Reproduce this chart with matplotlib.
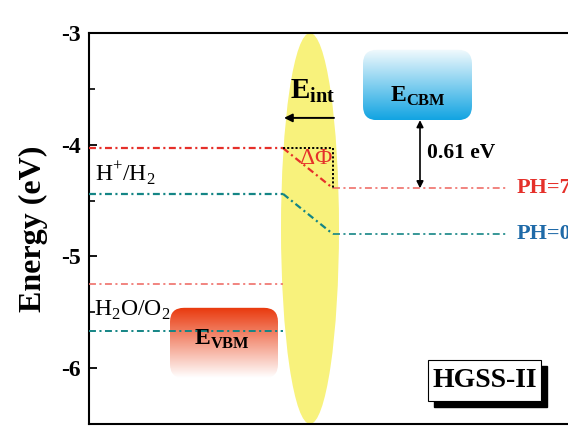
import numpy as np
import matplotlib
matplotlib.use('Agg')
import matplotlib.pyplot as plt
from matplotlib.patches import Ellipse, FancyBboxPatch, Rectangle
from matplotlib.colors import to_rgba

plt.rcParams['font.family'] = 'Liberation Serif'
plt.rcParams['mathtext.fontset'] = 'custom'
plt.rcParams['mathtext.rm'] = 'Liberation Serif'
plt.rcParams['mathtext.bf'] = 'Liberation Serif:bold'
plt.rcParams['axes.unicode_minus'] = False
plt.rcParams['lines.scale_dashes'] = False

# energy levels (eV)
e_h2_ph7, e_o2_ph7 = -4.03, -5.25      # red reference lines
e_h2_ph0, e_o2_ph0 = -4.44, -5.67      # teal reference lines
e_band_ph7, e_band_ph0 = -4.39, -4.80  # levels after bending
e_cbm_top, e_cbm = -3.15, -3.78
e_vbm_top, e_vbm_bot = -5.46, -6.09
gap_label = '0.61 eV'
yticks = [-6, -5, -4, -3]

red = '#e5302a'
red_lt = '#ef6f6a'
teal = '#148585'
blue = '#1f6aa8'
dashdot = (0, (5, 2.5, 1.5, 2.5))

fig = plt.figure(figsize=(5.68, 4.34), dpi=100)
# x in pixel-like units, axes runs past the right edge of the figure
ax = fig.add_axes([89/568, 10/434, (585-89)/568, 391/434])
ax.set_xlim(89, 585)
ax.set_ylim(-6.5, -3)

# yellow interface ellipse
ax.add_patch(Ellipse((310, -4.75), 58, 3.5, color='#f8f27c', lw=0, zorder=1))

def gradient_box(x0, x1, y0, y1, c_top, c_bot):
    n = 100
    ct, cb = np.array(to_rgba(c_top)), np.array(to_rgba(c_bot))
    t = np.linspace(0, 1, n)[:, None]
    grad = (cb * (1 - t) + ct * t)[:, None, :]
    box = FancyBboxPatch((x0, y0), x1 - x0, y1 - y0,
                         boxstyle='round,pad=0,rounding_size=14',
                         mutation_aspect=1/111.7, fc='none', ec='none')
    ax.add_patch(box)
    im = ax.imshow(grad, extent=[x0, x1, y0, y1], origin='lower',
                   aspect='auto', zorder=2)
    im.set_clip_path(box)

gradient_box(363, 472, e_cbm, e_cbm_top, '#f2fafd', '#12a4e2')
gradient_box(170, 278, e_vbm_bot, e_vbm_top, '#e9380c', '#ffffff')

# reference / band lines
ax.plot([89, 283], [e_h2_ph7] * 2, color=red, lw=1.6, ls=dashdot, zorder=3)
ax.plot([283, 333], [e_h2_ph7, e_band_ph7], color=red, lw=1.6, ls=dashdot, zorder=3)
ax.plot([333, 508], [e_band_ph7] * 2, color=red_lt, lw=1.2, ls=dashdot, zorder=3)
ax.plot([89, 283], [e_o2_ph7] * 2, color=red_lt, lw=1.2, ls=dashdot, zorder=3)

ax.plot([89, 283], [e_h2_ph0] * 2, color=teal, lw=1.6, ls=dashdot, zorder=3)
ax.plot([283, 333], [e_h2_ph0, e_band_ph0], color=teal, lw=1.6, ls=dashdot, zorder=3)
ax.plot([333, 508], [e_band_ph0] * 2, color=teal, lw=1.2, ls=dashdot, zorder=3)
ax.plot([89, 283], [e_o2_ph0] * 2, color=teal, lw=1.4, ls=dashdot, zorder=3)

# band bending box
ax.plot([283, 333, 333], [e_h2_ph7, e_h2_ph7, e_band_ph7], color='black',
        lw=1.4, ls=(0, (1.5, 1.5)), zorder=3)
ax.text(316, -4.12, r'$\Delta\Phi$', color=red, fontsize=17, ha='center', va='center', zorder=4)

# built-in field arrow
ax.annotate('', xy=(284, -3.76), xytext=(334, -3.76),
            arrowprops=dict(arrowstyle='-|>', color='black', lw=1.4,
                            mutation_scale=12, shrinkA=0, shrinkB=0), zorder=4)
ax.text(313, -3.52, r'$\mathbf{E}_{\mathbf{int}}$', fontsize=21, ha='center', va='center', zorder=4)

# CBM gap arrow
ax.annotate('', xy=(420, e_cbm), xytext=(420, e_band_ph7),
            arrowprops=dict(arrowstyle='<|-|>', color='black', lw=1.2,
                            mutation_scale=10, shrinkA=0, shrinkB=0), zorder=4)
ax.text(427, -4.07, gap_label, fontsize=15.5, fontweight='bold', ha='left', va='center', zorder=4)

ax.text(418, -3.57, r'$\mathbf{E}_{\mathbf{CBM}}$', fontsize=17, ha='center', va='center', zorder=4)
ax.text(222, -5.74, r'$\mathbf{E}_{\mathbf{VBM}}$', fontsize=17, ha='center', va='center', zorder=4)

ax.text(95, -4.25, r'H$^{+}$/H$_2$', fontsize=17, ha='left', va='center', zorder=4)
ax.text(94, -5.48, r'H$_2$O/O$_2$', fontsize=17, ha='left', va='center', zorder=4)
ax.text(517, e_band_ph7, 'PH=7', color=red, fontsize=16, fontweight='bold', ha='left', va='center', zorder=4)
ax.text(517, e_band_ph0, 'PH=0', color=blue, fontsize=16, fontweight='bold', ha='left', va='center', zorder=4)

# sample label with shadow
dy = 1 / 111.7
ax.add_patch(Rectangle((434, -6.29 - 6 * dy), 113, 0.36, fc='black', ec='black', zorder=5))
ax.add_patch(Rectangle((428, -6.29), 113, 0.36, fc='white', ec='black', lw=0.8, zorder=6))
ax.text(485, -6.11, 'HGSS-II', fontsize=20, fontweight='bold', ha='center', va='center', zorder=7)

ax.set_xlim(89, 585)
ax.set_ylim(-6.5, -3)
ax.set_xticks([])
ax.set_yticks(yticks)
ax.set_yticks(np.arange(-6.5, -3, 0.5), minor=True)
ax.tick_params(axis='y', which='major', direction='in', length=6, width=1.3, labelsize=17, pad=6)
ax.tick_params(axis='y', which='minor', direction='in', length=4, width=1.2)
for lab in ax.get_yticklabels():
    lab.set_fontweight('bold')
for sp in ax.spines.values():
    sp.set_linewidth(1.5)
ax.set_ylabel('Energy (eV)', fontsize=23, fontweight='bold', labelpad=9)

fig.savefig('out.png', dpi=100)
